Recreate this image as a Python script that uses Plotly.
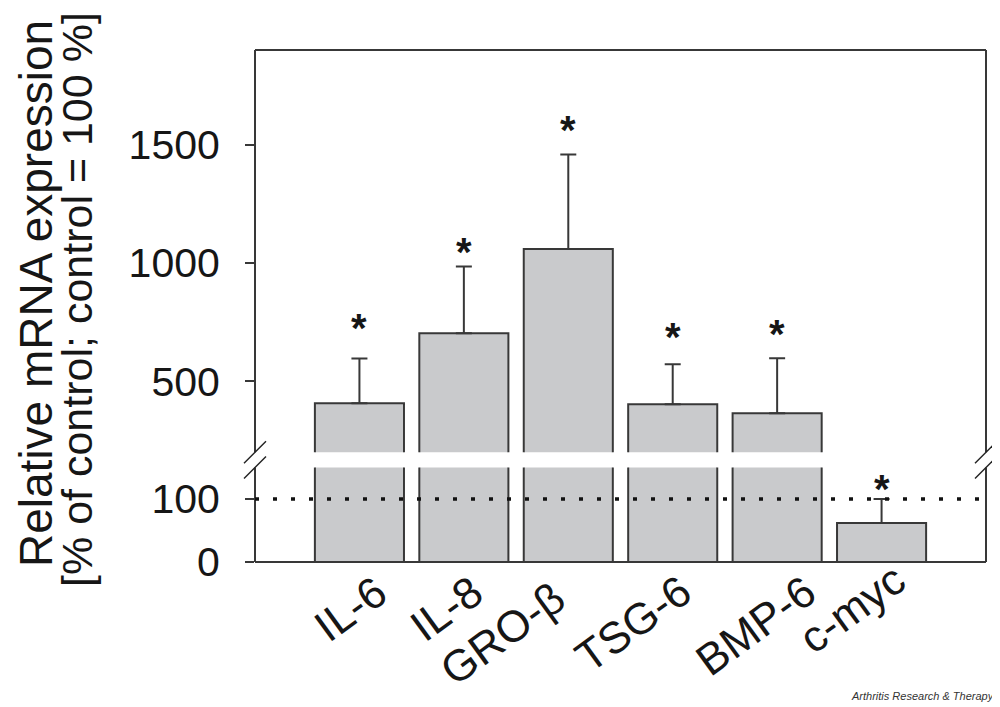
import plotly.graph_objects as go

# ---------------- data ----------------
categories = ["IL-6", "IL-8", "GRO-β", "TSG-6", "BMP-6", "c-myc"]
means = [407, 703, 1059, 403, 365, 62]
err_up = [189, 282, 399, 169, 232, 38]
significant = [True, True, True, True, True, True]
control_level = 100
lower_ticks = [0, 100]
upper_ticks = [500, 1000, 1500]
y_title_1 = "Relative mRNA expression"
y_title_2 = "[% of control; control = 100 %]"
credit = "Arthritis Research & Therapy"

# ---------------- layout geometry ----------------
# page body has an 8px margin; all target pixel positions are offset by it
OFF = 8
W, H = 1000 - OFF, 707 - OFF
L, T = 255 - OFF, 50 - OFF
PW, PH = 731, 512
R, B = W - L - PW, H - T - PH
BOT = 562  # target pixel y of the plot bottom
LOW_RANGE = [0, 150]
UP_RANGE = [200, 1900]
low_top = (BOT - 467.5) / PH
up_bot = (BOT - 452.3) / PH

FONT = "Liberation Sans, Arial, sans-serif"
TXT = "#161616"
LINE = "#383838"
BAR_FILL = "#c9cacc"

# per-label placement (pixel shifts, layout only)
label_dx = [-9, -18, -66, -40, -22, -30]
label_cy = [608, 608, 633, 623, 625, 608]
star_dy = [40, 24, 34, 36, 33, 19]

fig = go.Figure()
for yax in ["y", "y2"]:
    fig.add_trace(go.Bar(
        x=categories, y=means, yaxis=yax,
        marker=dict(color=BAR_FILL, line=dict(color=LINE, width=2)),
        error_y=dict(type="data", array=err_up, arrayminus=[0] * len(err_up),
                     symmetric=False, color=LINE, thickness=2, width=8),
        showlegend=False, hoverinfo="skip",
    ))

shapes = []
def pline(x0, y0, x1, y1, **kw):
    d = dict(type="line", xref="paper", yref="paper", x0=x0, y0=y0, x1=x1, y1=y1,
             line=dict(color=LINE, width=2))
    d.update(kw)
    shapes.append(d)

# frame
pline(0, 0, 0, low_top)
pline(0, up_bot, 0, 1)
pline(1, 0, 1, low_top)
pline(1, up_bot, 1, 1)
pline(0, 1, 1, 1)
pline(0, 0, 1, 0)
# break marks
for xa in [0, 1]:
    for ya in [low_top, up_bot]:
        shapes.append(dict(type="line", xref="paper", yref="paper",
                           xsizemode="pixel", ysizemode="pixel", xanchor=xa, yanchor=ya,
                           x0=-11, x1=11, y0=-11, y1=11,
                           line=dict(color="#222", width=1.5)))
# control reference line
shapes.append(dict(type="line", xref="paper", yref="y", x0=0, x1=1,
                   y0=control_level, y1=control_level,
                   line=dict(color="#111", width=3.5, dash="4px,14px")))

annotations = []
for i, c in enumerate(categories):
    top = means[i] + err_up[i]
    if significant[i]:
        in_low = top <= LOW_RANGE[1]
        annotations.append(dict(
            x=c, y=top, xref="x", yref="y" if in_low else "y2",
            text="<b>*</b>", showarrow=False, yanchor="middle",
            yshift=star_dy[i] - 9,
            font=dict(family=FONT, size=40, color=TXT)))
    annotations.append(dict(
        x=c, y=0, xref="x", yref="paper", text=c, showarrow=False,
        xanchor="center", yanchor="middle", textangle=-36,
        xshift=label_dx[i], yshift=-(label_cy[i] - BOT),
        font=dict(family=FONT, size=44, color=TXT)))

def px_x(p):
    return (p - 255) / PW

def px_y(p):
    return (BOT - p) / PH

annotations.append(dict(x=px_x(36), y=px_y(294), xref="paper", yref="paper",
                        text=y_title_1, textangle=-90, showarrow=False,
                        xanchor="center", yanchor="middle", borderpad=0,
                        font=dict(family=FONT, size=46, color=TXT)))
annotations.append(dict(x=px_x(77), y=px_y(300), xref="paper", yref="paper",
                        text=y_title_2, textangle=-90, showarrow=False,
                        xanchor="center", yanchor="middle", borderpad=0,
                        font=dict(family=FONT, size=43, color=TXT)))
annotations.append(dict(x=px_x(997), y=px_y(696), xref="paper", yref="paper",
                        text="<i>" + credit + "</i>", showarrow=False,
                        xanchor="right", yanchor="middle",
                        font=dict(family=FONT, size=11, color="#333")))

axis_font = dict(family=FONT, size=41, color=TXT)
fig.update_layout(
    width=W, height=H,
    margin=dict(l=L, r=R, t=T, b=B, pad=0),
    paper_bgcolor="white", plot_bgcolor="white",
    bargap=0.147,
    xaxis=dict(type="category", range=[-1, 6], showticklabels=False, ticks="",
               showgrid=False, zeroline=False, showline=False),
    yaxis=dict(domain=[0, low_top], range=LOW_RANGE, tickvals=lower_ticks,
               ticks="outside", ticklen=9, tickwidth=2, tickcolor=LINE,
               tickfont=axis_font, ticklabelstandoff=17,
               showgrid=False, zeroline=False, showline=False),
    yaxis2=dict(domain=[up_bot, 1], range=UP_RANGE, tickvals=upper_ticks,
                ticks="outside", ticklen=9, tickwidth=2, tickcolor=LINE,
                tickfont=axis_font, ticklabelstandoff=17,
                showgrid=False, zeroline=False, showline=False, anchor="x"),
    shapes=shapes,
    annotations=annotations,
)

fig.write_html("out.html")
